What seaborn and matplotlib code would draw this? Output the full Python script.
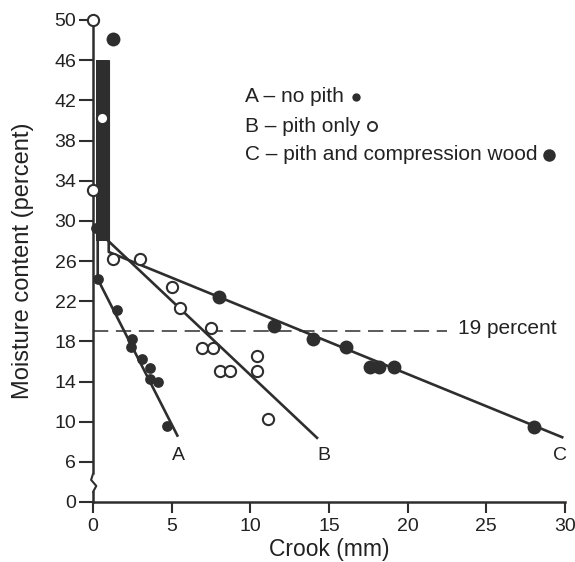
import matplotlib
matplotlib.use("Agg")
import matplotlib.pyplot as plt
import seaborn as sns

# data
# A - no pith (small filled dots)
a_x = [0.3, 0.2, 1.5, 2.5, 2.4, 3.1, 3.6, 3.6, 4.1, 4.7]
a_y = [24.2, 29.3, 21.1, 18.2, 17.4, 16.2, 15.3, 14.2, 14.0, 9.6]
# B - pith only (open circles)
b_x = [0.0, 0.6, 0.0, 1.3, 3.0, 5.0, 5.5, 7.5, 6.9, 7.6, 8.1, 8.7, 10.4, 10.4, 11.1]
b_y = [50.0, 40.2, 33.1, 26.2, 26.2, 23.4, 21.3, 19.3, 17.3, 17.3, 15.0, 15.0, 16.5, 15.0, 10.3]
# C - pith and compression wood (large filled dots)
c_x = [1.3, 8.0, 11.5, 14.0, 16.1, 17.6, 18.2, 19.1, 28.0]
c_y = [48.1, 22.4, 19.5, 18.2, 17.4, 15.4, 15.4, 15.4, 9.5]

# fitted lines (vertical part near zero, then the slope)
a_fit_x = [0.3, 0.3, 5.4]
a_fit_y = [46, 24.2, 8.5]
b_fit_x = [0.7, 0.7, 14.3]
b_fit_y = [46, 28.4, 8.3]
c_fit_x = [1.0, 1.0, 29.9]
c_fit_y = [46, 26.9, 8.4]
bar_x = [0.2, 1.0]
bar_y = [28, 46]

line_names = ["A", "B", "C"]
line_label_x = [5.4, 14.7, 29.7]
line_label_y = [6.6, 6.6, 6.6]

legend_labels = ["A \u2013 no pith", "B \u2013 pith only", "C \u2013 pith and compression wood"]

limit_y = 19
limit_x = [0, 22.5]

x_ticks = [0, 5, 10, 15, 20, 25, 30]
y_ticks = [2, 6, 10, 14, 18, 22, 26, 30, 34, 38, 42, 46, 50]
y_tick_labels = ["0", "6", "10", "14", "18", "22", "26", "30", "34", "38", "42", "46", "50"]

ink = "#2e2e2e"

sns.set_theme(style="ticks")
plt.rcParams["font.family"] = ["Liberation Sans", "DejaVu Sans"]

fig = plt.figure(figsize=(5.75, 5.62), dpi=100)
ax = fig.add_axes([93 / 575, 60 / 562, 472 / 575, 482 / 562])

# thick bar and fitted lines
ax.fill_betweenx(bar_y, bar_x[0], bar_x[1], color=ink, lw=0)
for fx, fy in [(a_fit_x, a_fit_y), (b_fit_x, b_fit_y), (c_fit_x, c_fit_y)]:
    ax.plot(fx, fy, color=ink, lw=1.9, solid_capstyle="butt")

# 19 percent line
ax.plot(limit_x, [limit_y, limit_y], color=ink, lw=1.1, dashes=(10, 5))
ax.text(23.2, limit_y + 0.3, "19 percent", fontsize=15, color="#222222", va="center", ha="left")

# points
sns.scatterplot(x=a_x, y=a_y, ax=ax, color=ink, s=60, edgecolor=ink, linewidth=0, zorder=3, clip_on=False)
sns.scatterplot(x=b_x, y=b_y, ax=ax, facecolor="white", edgecolor=ink, s=65, linewidth=1.5, zorder=3, clip_on=False)
sns.scatterplot(x=c_x, y=c_y, ax=ax, color=ink, s=100, edgecolor=ink, linewidth=0, zorder=3, clip_on=False)

for name, lx, ly in zip(line_names, line_label_x, line_label_y):
    ax.text(lx, ly, name, fontsize=14, color="#222222", ha="center", va="center")

# legend as text with marker after it
legend_marks = [
    dict(marker="o", color=ink, ms=6, mfc=ink, mew=0),
    dict(marker="o", color=ink, ms=6.5, mfc="white", mew=1.4),
    dict(marker="o", color=ink, ms=9, mfc=ink, mew=0),
]
legend_y = [42.35, 39.4, 36.6]
texts = []
for lab, ly in zip(legend_labels, legend_y):
    texts.append(ax.text(9.66, ly, lab, fontsize=15, color="#222222", ha="left", va="center"))

ax.set_xlim(0, 30)
ax.set_ylim(2, 50)
ax.set_xticks(x_ticks)
ax.set_yticks(y_ticks)
ax.set_yticklabels(y_tick_labels)
ax.tick_params(axis="both", direction="out", length=8, width=1.5, color=ink, labelsize=14, labelcolor="#222222")
ax.tick_params(axis="y", length=10, pad=2)
for side in ["top", "right"]:
    ax.spines[side].set_visible(False)
for side in ["left", "bottom"]:
    ax.spines[side].set_linewidth(1.8)
    ax.spines[side].set_color(ink)

# axis break on the y axis
ytr = ax.get_yaxis_transform()
ax.plot([0, 0], [3.2, 4.6], color="white", lw=3, transform=ytr, clip_on=False, zorder=5)
ax.plot([0, 0.007, -0.004, 0], [3.0, 3.6, 4.2, 4.8], color=ink, lw=1.5, transform=ytr, clip_on=False, zorder=6)

ax.set_xlabel("Crook (mm)", fontsize=16.5, color="#222222", labelpad=2)
ax.set_ylabel("Moisture content (percent)", fontsize=17, color="#222222", labelpad=15)

fig.canvas.draw()
renderer = fig.canvas.get_renderer()
inv = ax.transData.inverted()
for t, mk, ly in zip(texts, legend_marks, legend_y):
    bb = t.get_window_extent(renderer)
    mx, _ = inv.transform((bb.x1 + 12, bb.y0))
    ax.plot([mx], [ly], linestyle="none", clip_on=False, **mk)

fig.savefig("out.png", dpi=100)
